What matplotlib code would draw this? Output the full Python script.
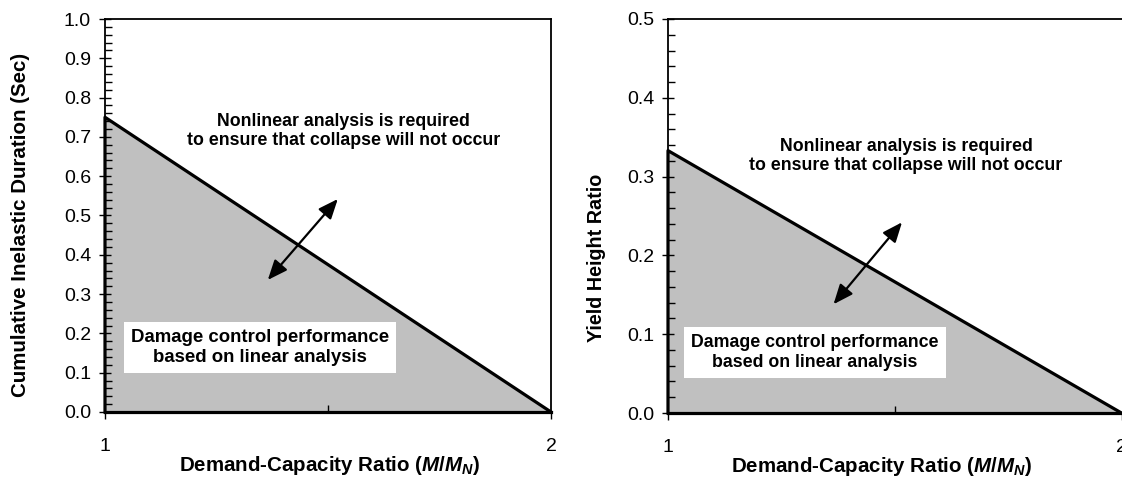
# import Modules ----------------------------------
import numpy as np
import matplotlib.pyplot as plt
from matplotlib.ticker import MultipleLocator, FormatStrFormatter

plt.rcParams['font.family'] = ['Liberation Sans', 'DejaVu Sans']
plt.rcParams['mathtext.fontset'] = 'custom'
plt.rcParams['mathtext.it'] = 'Liberation Sans:italic:bold'
plt.rcParams['mathtext.rm'] = 'Liberation Sans:bold'
plt.rcParams['mathtext.bf'] = 'Liberation Sans:bold'

# Data ---------------------------------------------
ratio = [1, 2]                    # demand-capacity ratio M/MN
duration = [0.75, 0.0]            # cumulative inelastic duration (sec)
yield_height = [0.333, 0.0]       # yield height ratio

# arrow ends (x, y) in data units
arrow_left = [(1.365, 0.336), (1.522, 0.542)]
arrow_right = [(1.365, 0.138), (1.516, 0.242)]

txt_nonlin = "Nonlinear analysis is required\nto ensure that collapse will not occur"
txt_damage = "Damage control performance\nbased on linear analysis"
xlab = r"Demand-Capacity Ratio ($M/M_N$)"

TXT = 12.8
LAB = 14.8
TICK = 14

fig = plt.figure(figsize=(11.22, 4.78), dpi=100)
axL = fig.add_axes([105/1122, 1-412/478, 446/1122, 393/478])
axR = fig.add_axes([668/1122, 1-413/478, 453.5/1122, 394/478])


def Setup_Axis(ax, ytop, ylab, ylab_pos, xlab_x, ylab_size):
    ax.set_xlim(1, 2)
    ax.set_ylim(0, ytop)
    ax.set_xticks([1, 2])
    ax.set_xticklabels(['1', '2'])
    ax.xaxis.set_minor_locator(MultipleLocator(0.5))
    ax.yaxis.set_major_locator(MultipleLocator(0.1))
    ax.yaxis.set_minor_locator(MultipleLocator(0.02))
    ax.yaxis.set_major_formatter(FormatStrFormatter('%.1f'))
    ax.tick_params(axis='y', which='major', direction='inout', length=8,
                   width=1.0, pad=6, labelsize=TICK)
    ax.tick_params(axis='y', which='minor', direction='in', length=5, width=1.0)
    ax.tick_params(axis='x', which='major', direction='out', length=5,
                   width=1.0, pad=14, labelsize=TICK)
    ax.tick_params(axis='x', which='minor', direction='in', length=5, width=1.0)
    for s in ax.spines.values():
        s.set_linewidth(1.3)
    ax.set_ylabel(ylab, fontsize=ylab_size, fontweight='bold')
    ax.yaxis.label.set_va('center')
    ax.yaxis.set_label_coords(*ylab_pos)
    ax.set_xlabel(xlab, fontsize=LAB, fontweight='bold')
    ax.xaxis.label.set_va('center')
    ax.xaxis.set_label_coords(xlab_x, -0.137)


def Draw_Region(ax, yvals, arrow, nonlin_xy, damage_xy, damage_size):
    pts = np.array([[ratio[0], 0.0], [ratio[0], yvals[0]],
                    [ratio[1], yvals[1]], [ratio[1], 0.0]])
    ax.add_patch(plt.Polygon(pts, closed=True, facecolor='#c0c0c0',
                             edgecolor='none', zorder=1))
    ax.plot([ratio[0], ratio[0], ratio[1]], [0, yvals[0], yvals[1]], 'k',
            lw=2.3, zorder=3, clip_on=False, solid_capstyle='projecting')
    ax.plot([ratio[0], ratio[1]], [0, 0], 'k', lw=2.3, zorder=3, clip_on=False)
    ax.annotate('', xy=arrow[0], xytext=arrow[1],
                arrowprops=dict(arrowstyle='<|-|>,head_length=0.6,head_width=0.25',
                                lw=1.6, color='k', mutation_scale=20,
                                shrinkA=0, shrinkB=0), zorder=4)
    ax.text(*nonlin_xy, txt_nonlin, ha='center', va='center', fontsize=TXT,
            fontweight='bold', linespacing=1.2)
    ax.text(*damage_xy, txt_damage, ha='center', va='center', fontsize=damage_size,
            fontweight='bold', linespacing=1.2, zorder=5,
            bbox=dict(facecolor='white', edgecolor='none', pad=5))


Setup_Axis(axL, 1.0, "Cumulative Inelastic Duration (Sec)", (-0.19, 0.476), 0.504, LAB)
Draw_Region(axL, duration, arrow_left, (1.534, 0.715), (1.348, 0.164), 13.4)

Setup_Axis(axR, 0.5, "Yield Height Ratio", (-0.157, 0.393), 0.472, 14.2)
Draw_Region(axR, yield_height, arrow_right, (1.525, 0.326), (1.3245, 0.0768), 12.8)
axR.spines['right'].set_visible(False)

plt.savefig('out.png', dpi=100)
